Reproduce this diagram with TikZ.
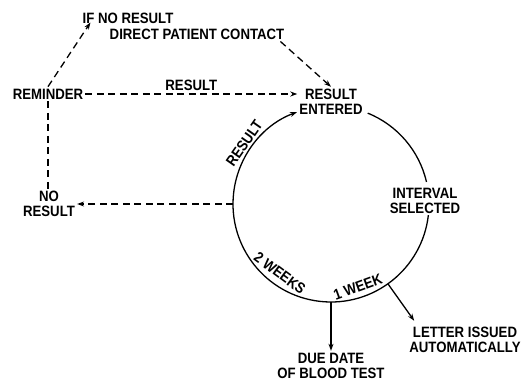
\documentclass[tikz,border=0pt]{standalone}
\usepackage{fontspec}
\setmainfont{Liberation Sans}[FakeStretch=0.88]
\usetikzlibrary{positioning, arrows.meta, calc}

\begin{document}
\begin{tikzpicture}[x=1pt, y=1pt,
      teks/.style={inner sep=2pt, align=center, font=\fontsize{15pt}{15.5pt}\selectfont\bfseries},
      panah/.style={-{Stealth[length=7pt, width=5pt]}, line width=1.3pt},
      putus/.style={-{Stealth[length=7pt, width=5pt]}, line width=1.3pt, dash pattern=on 7pt off 4.5pt},
      lingkar/.style={line width=1.3pt}
    ]
    \useasboundingbox (0,0) rectangle (524,381);

    % ─── Ring (centre and points on it) ─────────────────────────
    \coordinate (c)   at (331,177);
    \coordinate (a1)  at ($(c)+(68:98)$);
    \coordinate (a2)  at ($(c)+(-6.5:98)$);
    \coordinate (kiri) at ($(c)+(180:98)$);
    \coordinate (bwh) at ($(c)+(-90:98)$);
    \coordinate (sw)  at ($(c)+(-54.5:98)$);

    % ─── Text nodes ──────────────────────────────────────────────
    \node[teks] (ent)    at (331,279) {RESULT\\ ENTERED};
    \node[teks] (rem)    at (48,287)  {REMINDER};
    \node[teks] (ifno)   at (128,363) {IF NO RESULT};
    \node[teks] (direct) at (197,347) {DIRECT PATIENT CONTACT};
    \node[teks] (nores)  at (49,177)  {NO\\ RESULT};
    \node[teks] (intv)   at (425,180) {INTERVAL\\ SELECTED};
    \node[teks] (due)    at (331,15)  {DUE DATE\\ OF BLOOD TEST};
    \node[teks] (letter) at (465,41)  {LETTER ISSUED\\ AUTOMATICALLY};

    % ─── Labels along the ring ───────────────────────────────────
    \node[teks, rotate=55]    (lres) at ($(c)+(145:106)$) {RESULT};
    \node[teks, rotate=-36.5] (l2w)  at ($(c)+(233.5:86)$) {2 WEEKS};
    \node[teks, rotate=20]    (l1w)  at ($(c)+(-72:87)$) {1 WEEK};

    % ─── Ring arcs ───────────────────────────────────────────────
    \draw[lingkar] (a1) arc[start angle=68, end angle=13, radius=98];
    \draw[panah] (a2) arc[start angle=-6.5, end angle=-249.7, radius=98];

    % ─── Arrows from the ring ────────────────────────────────────
    \draw[panah] (bwh) -- (due.north);
    \draw[panah] (sw)  -- ([xshift=7pt,yshift=4pt]letter.north west);
    \draw[putus] (kiri) -- (nores.east);

    % ─── Reminder paths (dashed) ─────────────────────────────────
    \draw[putus] (rem.east) -- (rem.east -| ent.west)
      node[teks, midway, above, yshift=1pt] (lhasil) {RESULT};
    \draw[putus, -] (rem.south) -- (rem.south |- nores.north);
    \draw[putus] (rem.north) -- ([xshift=10pt,yshift=3pt]ifno.south west);
    \draw[putus] ([xshift=-6pt]direct.south east) -- (ent.north);

\end{tikzpicture}
\end{document}
